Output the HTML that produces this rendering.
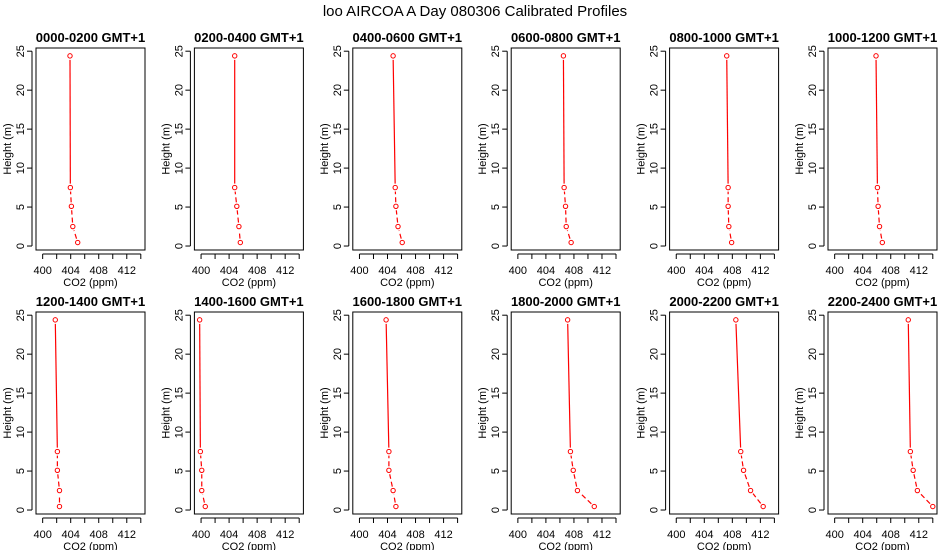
<!DOCTYPE html>
<html><head><meta charset="utf-8"><style>
body{margin:0;background:#fff;}
svg{display:block;font-family:"Liberation Sans",Arial,sans-serif;}
</style></head><body>
<svg id="chart" width="950" height="550">
<text x="475" y="16" font-size="15" text-anchor="middle">loo AIRCOA A  Day 080306  Calibrated Profiles</text>
</svg>
<script>
const panelTitles = ["0000-0200 GMT+1","0200-0400 GMT+1","0400-0600 GMT+1","0600-0800 GMT+1","0800-1000 GMT+1","1000-1200 GMT+1","1200-1400 GMT+1","1400-1600 GMT+1","1600-1800 GMT+1","1800-2000 GMT+1","2000-2200 GMT+1","2200-2400 GMT+1"];
const heights = [0.45, 2.5, 5.1, 7.5, 24.4];
const co2p1 = [405.0, 404.3, 404.1, 403.95, 403.9];
const co2p2 = [405.6, 405.4, 405.1, 404.8, 404.8];
const co2p3 = [406.1, 405.5, 405.2, 405.1, 404.8];
const co2p4 = [407.6, 406.9, 406.8, 406.6, 406.5];
const co2p5 = [407.9, 407.5, 407.4, 407.4, 407.2];
const co2p6 = [406.8, 406.4, 406.2, 406.1, 405.9];
const co2p7 = [402.4, 402.4, 402.1, 402.1, 401.8];
const co2p8 = [400.6, 400.1, 400.1, 399.9, 399.8];
const co2p9 = [405.2, 404.8, 404.2, 404.2, 403.8];
const co2p10 = [410.9, 408.5, 407.9, 407.5, 407.1];
const co2p11 = [412.4, 410.6, 409.6, 409.2, 408.5];
const co2p12 = [414.0, 411.8, 411.2, 410.8, 410.5];
const series = [co2p1,co2p2,co2p3,co2p4,co2p5,co2p6,co2p7,co2p8,co2p9,co2p10,co2p11,co2p12];
const xTicks = [400,402,404,406,408,410,412,414];
const xTickLabels = ["400","","404","","408","","412",""];
const yTicks = [0,5,10,15,20,25];

const NS="http://www.w3.org/2000/svg";
const svg=document.getElementById('chart');
function mk(tag,attrs,parent){const e=document.createElementNS(NS,tag);for(const k in attrs)e.setAttribute(k,attrs[k]);(parent||svg).appendChild(e);return e;}
const xMin=399.05,xMax=414.6,yMin=-0.51,yMax=25.41;
const boxW=109;
const rowTop=[48,312], rowBot=[250,514];
for(let p=0;p<12;p++){
  const col=p%6,row=Math.floor(p/6);
  const L=36+col*158.4, T=rowTop[row], B=rowBot[row];
  const sx=v=>L+(v-xMin)/(xMax-xMin)*boxW;
  const sy=v=>B-(v-yMin)/(yMax-yMin)*(B-T);
  const g=mk('g',{});
  
  
  const t=mk('text',{x:L+boxW/2,y:T-6,'font-size':13,'font-weight':'bold','text-anchor':'middle'},g);
  
  
  t.textContent=panelTitles[p];
  const box=mk('rect',{x:L,y:T,width:boxW,height:B-T,fill:'none',stroke:'#000','stroke-width':1},g);
  
  
  // x axis
  const xa=mk('g',{},g);
  
  
  mk('line',{x1:sx(xTicks[0]),x2:sx(xTicks[xTicks.length-1]),y1:B+4,y2:B+4,stroke:'#000'},xa);
  xTicks.forEach((v,i)=>{
    mk('line',{x1:sx(v),x2:sx(v),y1:B+4,y2:B+9,stroke:'#000'},xa);
    if(xTickLabels[i]){const tl=mk('text',{x:sx(v),y:B+24,'font-size':11,'text-anchor':'middle'},xa);
      
      
      tl.textContent=xTickLabels[i];}
  });
  const xl=mk('text',{x:L+boxW/2,y:B+36,'font-size':11,'text-anchor':'middle'},g);
  
  
  xl.textContent='CO2 (ppm)';
  // y axis
  const ya=mk('g',{},g);
  
  
  mk('line',{x1:L-4,x2:L-4,y1:sy(0),y2:sy(25),stroke:'#000'},ya);
  yTicks.forEach(v=>{
    mk('line',{x1:L-9,x2:L-4,y1:sy(v),y2:sy(v),stroke:'#000'},ya);
    const yl=mk('text',{x:L-12,y:sy(v),'font-size':11,'text-anchor':'middle',transform:`rotate(-90 ${L-12} ${sy(v)})`},ya);
    
    
    yl.textContent=v;
  });
  const yt=mk('text',{x:L-25,y:(T+B)/2,'font-size':11,'text-anchor':'middle',transform:`rotate(-90 ${L-25} ${(T+B)/2})`},g);
  
  
  yt.textContent='Height (m)';
  // series
  const s=series[p];
  for(let i=0;i<heights.length-1;i++){
    const x1=sx(s[i]),y1=sy(heights[i]),x2=sx(s[i+1]),y2=sy(heights[i+1]);
    const dx=x2-x1,dy=y2-y1,len=Math.hypot(dx,dy),sh=4/len;
    const ln=mk('line',{x1:x1+dx*sh,y1:y1+dy*sh,x2:x2-dx*sh,y2:y2-dy*sh,stroke:'#f00','stroke-width':1.2},g);
    if(i<heights.length-2) ln.setAttribute('stroke-dasharray','5,3');
    
    
  }
  s.forEach((v,i)=>{
    const c=mk('circle',{cx:sx(v),cy:sy(heights[i]),r:2.2,fill:'none',stroke:'#f00','stroke-width':1},g);
    
    
  });
}
</script>
</body></html>
